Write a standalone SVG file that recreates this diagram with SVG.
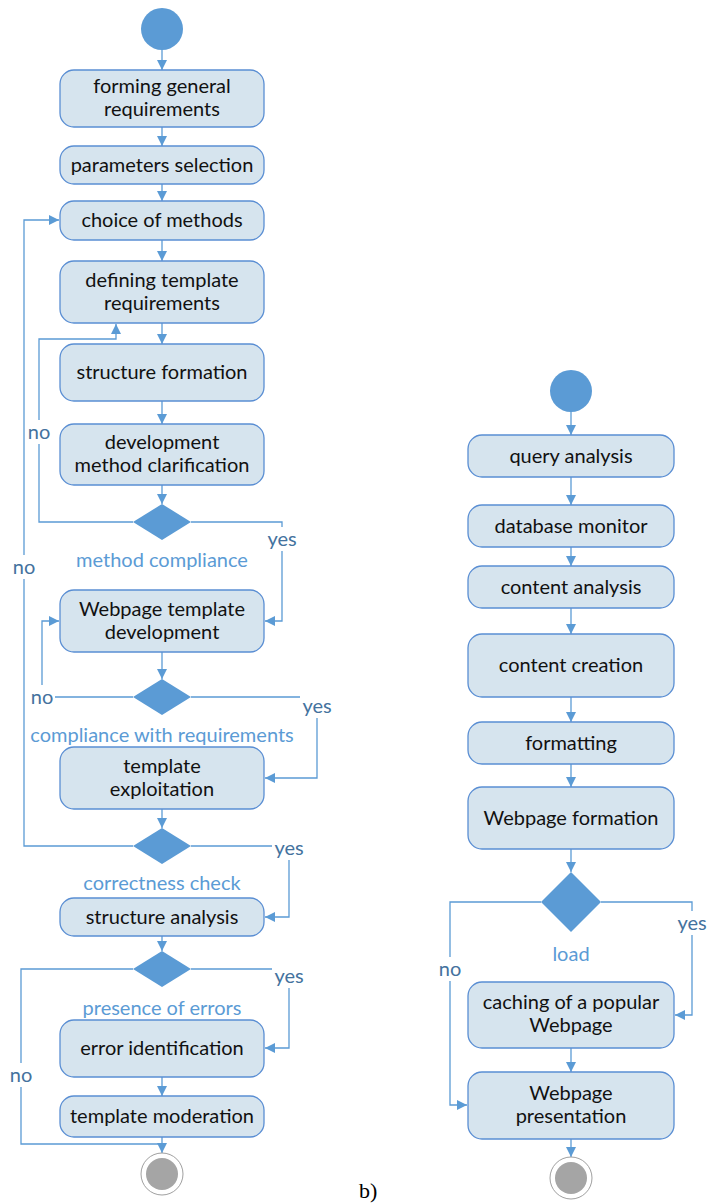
<svg xmlns="http://www.w3.org/2000/svg" width="708" height="1203" viewBox="0 0 708 1203">
  <defs>
    <marker id="arrow" markerUnits="userSpaceOnUse" markerWidth="11" markerHeight="11" refX="10" refY="5" orient="auto">
      <path d="M0,0 L10,5 L0,10 z" fill="#5b9bd5"/>
    </marker>
  </defs>
  <style>
    .act rect { fill: #d6e4ee; stroke: #5a8ed3; stroke-width: 1.3; }
    .act text { font-family: Lato, "Liberation Sans", sans-serif; font-size: 20px; fill: #111; text-anchor: middle; }
    .start { fill: #5b9bd5; }
    .dec { fill: #5b9bd5; }
    .endo { fill: #fff; stroke: #a0a0a0; stroke-width: 1; }
    .endi { fill: #a5a5a5; }
    .edges path { fill: none; stroke: #5b9bd5; stroke-width: 1.3; marker-end: url(#arrow); }
    .edges path.plain { marker-end: none; }
    .guard rect { fill: #fff; }
    .guard text { font-family: Lato, "Liberation Sans", sans-serif; font-size: 20px; fill: #44729e; text-anchor: middle; }
    .cond { font-family: Lato, "Liberation Sans", sans-serif; font-size: 20px; fill: #5b9bd5; text-anchor: middle; }
  </style>
  <rect width="708" height="1203" fill="#fff"/>

  <!-- connectors -->
  <g id="connectors" class="edges">
    <!-- left flow -->
    <path d="M162,50 V70"/>
    <path d="M162,127 V146"/>
    <path d="M162,184 V201"/>
    <path d="M162,240 V261"/>
    <path d="M162,323 V344"/>
    <path d="M162,401 V424"/>
    <path d="M162,485 V504"/>
    <path d="M133,522 H39 V339 H116 V324"/>
    <path d="M191,522 H282 V621 H265"/>
    <path d="M162,652 V679"/>
    <path d="M133,697 H42 V621 H59"/>
    <path d="M191,697 H317 V778 H265"/>
    <path d="M162,809 V828"/>
    <path d="M133,846 H24 V220 H59"/>
    <path d="M191,846 H289 V917 H265"/>
    <path d="M162,936 V951"/>
    <path class="plain" d="M133,969 H21 V1144 H162"/>
    <path d="M191,969 H289 V1048 H265"/>
    <path d="M162,1077 V1096"/>
    <path d="M162,1137 V1153"/>
    <!-- right flow -->
    <path d="M571,412 V435"/>
    <path d="M571,477 V505"/>
    <path d="M571,547 V566"/>
    <path d="M571,608 V634"/>
    <path d="M571,697 V722"/>
    <path d="M571,764 V787"/>
    <path d="M571,849 V872"/>
    <path d="M541,902 H450 V1105 H467"/>
    <path d="M601,902 H692 V1015 H675"/>
    <path d="M571,1048 V1072"/>
    <path d="M571,1139 V1157"/>
  </g>

  <!-- guard labels -->
  <g id="guards" class="guard">
    <rect x="26" y="420" width="26" height="24"/><text x="39" y="439">no</text>
    <rect x="11" y="555" width="26" height="24"/><text x="24" y="574">no</text>
    <rect x="29" y="685" width="26" height="24"/><text x="42" y="704">no</text>
    <rect x="8" y="1063" width="26" height="24"/><text x="21" y="1082">no</text>
    <rect x="437" y="957" width="26" height="24"/><text x="450" y="976">no</text>
    <rect x="265" y="527" width="34" height="24"/><text x="282" y="546">yes</text>
    <rect x="300" y="694" width="34" height="24"/><text x="317" y="713">yes</text>
    <rect x="272" y="836" width="34" height="24"/><text x="289" y="855">yes</text>
    <rect x="272" y="964" width="34" height="24"/><text x="289" y="983">yes</text>
    <rect x="675" y="911" width="33" height="24"/><text x="692" y="930">yes</text>
  </g>

  <!-- left diagram -->
  <circle id="start-a" class="start" cx="162" cy="29" r="21"/>
  <g id="n-forming" class="act"><rect x="60" y="70" width="204" height="57" rx="14"/><text x="162" y="93">forming general</text><text x="162" y="116">requirements</text></g>
  <g id="n-params" class="act"><rect x="60" y="146" width="204" height="38" rx="14"/><text x="162" y="172">parameters selection</text></g>
  <g id="n-choice" class="act"><rect x="60" y="201" width="204" height="39" rx="14"/><text x="162" y="227">choice of methods</text></g>
  <g id="n-defining" class="act"><rect x="60" y="261" width="204" height="62" rx="14"/><text x="162" y="287">defining template</text><text x="162" y="310">requirements</text></g>
  <g id="n-structure" class="act"><rect x="60" y="344" width="204" height="57" rx="14"/><text x="162" y="379">structure formation</text></g>
  <g id="n-devmethod" class="act"><rect x="60" y="424" width="204" height="61" rx="14"/><text x="162" y="449">development</text><text x="162" y="472">method clarification</text></g>
  <g id="d-method"><polygon class="dec" points="162,504 191,522 162,540 133,522"/><text class="cond" x="162" y="567">method compliance</text></g>
  <g id="n-webdev" class="act"><rect x="60" y="590" width="204" height="62" rx="14"/><text x="162" y="616">Webpage template</text><text x="162" y="639">development</text></g>
  <g id="d-req"><polygon class="dec" points="162,679 191,697 162,715 133,697"/><text class="cond" x="162" y="742">compliance with requirements</text></g>
  <g id="n-exploit" class="act"><rect x="60" y="747" width="204" height="62" rx="14"/><text x="162" y="773">template</text><text x="162" y="796">exploitation</text></g>
  <g id="d-correct"><polygon class="dec" points="162,828 191,846 162,864 133,846"/><text class="cond" x="162" y="890">correctness check</text></g>
  <g id="n-sanalysis" class="act"><rect x="60" y="898" width="204" height="38" rx="14"/><text x="162" y="924">structure analysis</text></g>
  <g id="d-errors"><polygon class="dec" points="162,951 191,969 162,987 133,969"/><text class="cond" x="162" y="1015">presence of errors</text></g>
  <g id="n-errid" class="act"><rect x="60" y="1020" width="204" height="57" rx="14"/><text x="162" y="1055">error identification</text></g>
  <g id="n-moder" class="act"><rect x="60" y="1096" width="204" height="41" rx="14"/><text x="162" y="1123">template moderation</text></g>
  <g id="end-a"><circle class="endo" cx="162" cy="1174" r="21"/><circle class="endi" cx="162" cy="1174" r="16"/></g>

  <!-- right diagram -->
  <circle id="start-b" class="start" cx="571" cy="391" r="21"/>
  <g id="n-query" class="act"><rect x="468" y="435" width="206" height="42" rx="14"/><text x="571" y="463">query analysis</text></g>
  <g id="n-db" class="act"><rect x="468" y="505" width="206" height="42" rx="14"/><text x="571" y="533">database monitor</text></g>
  <g id="n-canalysis" class="act"><rect x="468" y="566" width="206" height="42" rx="14"/><text x="571" y="594">content analysis</text></g>
  <g id="n-ccreation" class="act"><rect x="468" y="634" width="206" height="63" rx="14"/><text x="571" y="672">content creation</text></g>
  <g id="n-format" class="act"><rect x="468" y="722" width="206" height="42" rx="14"/><text x="571" y="750">formatting</text></g>
  <g id="n-webform" class="act"><rect x="468" y="787" width="206" height="62" rx="14"/><text x="571" y="825">Webpage formation</text></g>
  <g id="d-load"><polygon class="dec" points="571,872 601,902 571,932 541,902"/><text class="cond" x="571" y="961">load</text></g>
  <g id="n-cache" class="act"><rect x="468" y="982" width="206" height="66" rx="14"/><text x="571" y="1009">caching of a popular</text><text x="571" y="1032">Webpage</text></g>
  <g id="n-present" class="act"><rect x="468" y="1072" width="206" height="67" rx="14"/><text x="571" y="1100">Webpage</text><text x="571" y="1123">presentation</text></g>
  <g id="end-b"><circle class="endo" cx="571" cy="1178" r="21"/><circle class="endi" cx="571" cy="1178" r="16"/></g>

  <text x="359" y="1198" font-family="Liberation Serif, serif" font-size="22" fill="#000">b)</text>
</svg>
